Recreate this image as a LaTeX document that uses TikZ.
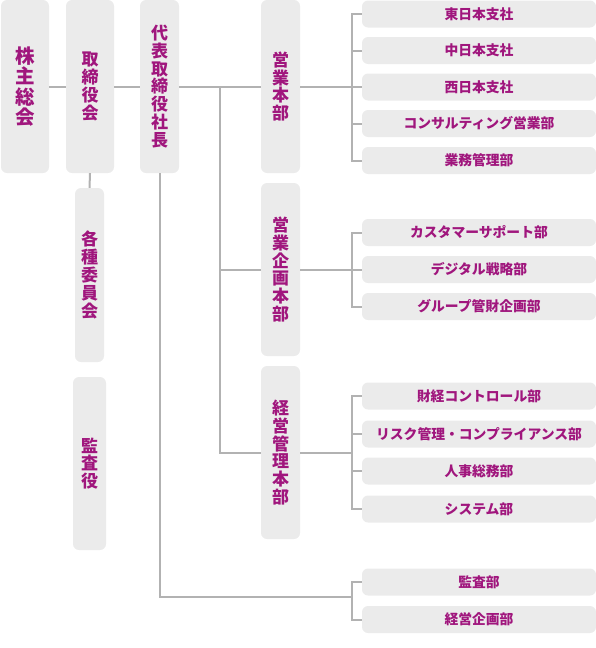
\documentclass[tikz,border=0pt]{standalone}
\usepackage{fontspec}
\newfontfamily\jp{Noto Sans CJK JP}
\definecolor{boxgray}{RGB}{235,235,235}
\definecolor{linegray}{RGB}{178,178,178}
\definecolor{textmag}{RGB}{160,22,125}
\tikzset{
  box/.style={fill=boxgray, rounded corners=6pt, inner sep=0pt, text=textmag, align=center},
  vbox/.style={box, font=\jp\bfseries\fontsize{17}{17.8}\selectfont, minimum height=173pt},
  bigvbox/.style={box, font=\jp\bfseries\fontsize{19.5}{20.3}\selectfont, minimum height=173pt},
  hbox/.style={box, font=\jp\bfseries\fontsize{13.8}{16}\selectfont, minimum width=234pt, minimum height=27pt},
  conn/.style={draw=linegray, line width=2pt}
}
\begin{document}
\begin{tikzpicture}[x=1pt,y=-1pt]
\useasboundingbox (0,0) rectangle (596,648);
% left column
\node[bigvbox, minimum width=48pt] (kabu) at (25,86.5) {株\\主\\総\\会};
\node[vbox, minimum width=48pt] (tori) at (90,86.5) {取\\締\\役\\会};
\node[vbox, minimum width=39pt] (daihyo) at (159.5,86.5) {代\\表\\取\\締\\役\\社\\長};
\node[vbox, minimum width=29pt, minimum height=174pt] (iinkai) at (89.5,275) {各\\種\\委\\員\\会};
\node[vbox, minimum width=33pt] (kansayaku) at (89.5,463.5) {監\\査\\役};
% headquarters
\node[vbox, minimum width=39pt] (eigyo) at (280.5,86.5) {営\\業\\本\\部};
\node[vbox, minimum width=39pt] (kikaku) at (280.5,269.5) {営\\業\\企\\画\\本\\部};
\node[vbox, minimum width=39pt] (kanri) at (280.5,452.5) {経\\営\\管\\理\\本\\部};
% departments
\node[hbox] (e1) at (479,14) {東日本支社};
\node[hbox] (e2) at (479,50.5) {中日本支社};
\node[hbox] (e3) at (479,87) {西日本支社};
\node[hbox] (e4) at (479,123.5) {コンサルティング営業部};
\node[hbox] (e5) at (479,160.5) {業務管理部};
\node[hbox] (k1) at (479,232.5) {カスタマーサポート部};
\node[hbox] (k2) at (479,269.5) {デジタル戦略部};
\node[hbox] (k3) at (479,306.5) {グループ管財企画部};
\node[hbox] (m1) at (479,396) {財経コントロール部};
\node[hbox] (m2) at (479,434) {リスク管理・コンプライアンス部};
\node[hbox] (m3) at (479,471) {人事総務部};
\node[hbox] (m4) at (479,509) {システム部};
\node[hbox] (d1) at (479,582) {監査部};
\node[hbox] (d2) at (479,619.5) {経営企画部};
% coordinates
\coordinate (trunkTop) at (220,86.5);
\coordinate (trunkMid) at (220,269.5);
\coordinate (trunkBot) at (220,452.5);
\coordinate (brE) at (352,86.5);
\coordinate (brK) at (352,269.5);
\coordinate (brM) at (352,452.5);
\coordinate (dBend) at (159.5,597);
\coordinate (brD) at (352,597);
% connectors
\draw[conn] (kabu.east) -- (tori.west);
\draw[conn] (tori.east) -- (daihyo.west);
\draw[conn] (daihyo.east) -- (eigyo.west);
\draw[conn] (tori.south) -- (iinkai.north);
\draw[conn] (trunkTop) -- (trunkBot) -- (kanri.west);
\draw[conn] (trunkMid) -- (kikaku.west);
\draw[conn] (eigyo.east) -- (brE);
\draw[conn] (kikaku.east) -- (brK);
\draw[conn] (kanri.east) -- (brM);
\draw[conn] (daihyo.south) -- (dBend) -- (brD);
\draw[conn] (e1.west) -- ++(-10,0) |- (e5.west);
\draw[conn] (e2.west) -- ++(-10,0);
\draw[conn] (e3.west) -- ++(-10,0);
\draw[conn] (e4.west) -- ++(-10,0);
\draw[conn] (k1.west) -- ++(-10,0) |- (k3.west);
\draw[conn] (k2.west) -- ++(-10,0);
\draw[conn] (m1.west) -- ++(-10,0) |- (m4.west);
\draw[conn] (m2.west) -- ++(-10,0);
\draw[conn] (m3.west) -- ++(-10,0);
\draw[conn] (d1.west) -- ++(-10,0) |- (d2.west);
\end{tikzpicture}
\end{document}
